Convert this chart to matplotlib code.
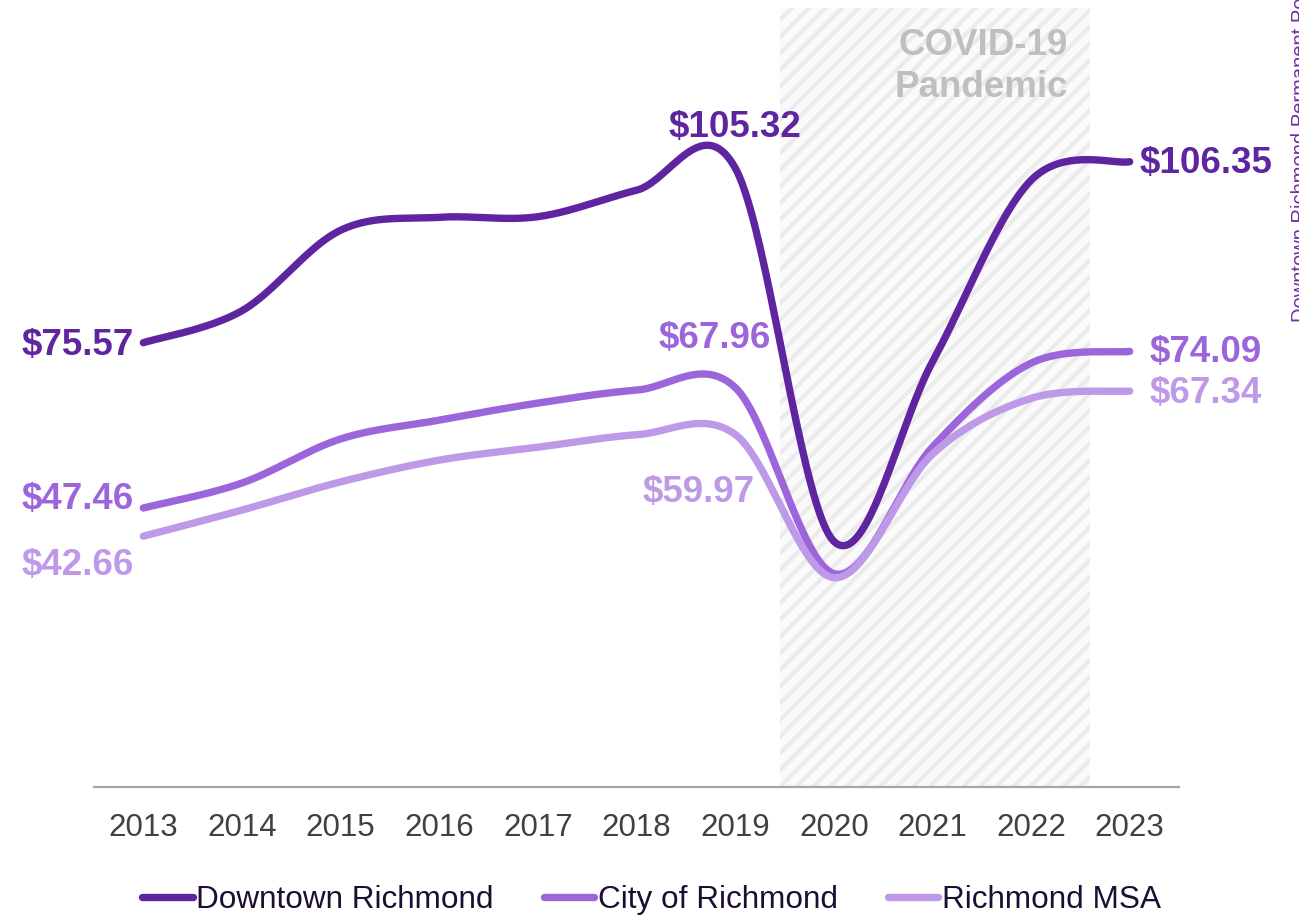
import numpy as np
import matplotlib
matplotlib.use('Agg')
import matplotlib.pyplot as plt

plt.rcParams['font.family'] = ['Liberation Sans', 'DejaVu Sans']
plt.rcParams['hatch.color'] = '#ebebeb'
plt.rcParams['hatch.linewidth'] = 3

# Dados (valor médio diário, US$)
anos = ['2013', '2014', '2015', '2016', '2017', '2018', '2019', '2020', '2021', '2022', '2023']
downtown = [75.57, 81.0, 94.7, 96.9, 97.0, 101.5, 105.32, 41.8, 72.3, 103.2, 106.35]
cidade = [47.46, 51.7, 59.2, 62.4, 65.3, 67.5, 67.96, 36.3, 57.8, 72.1, 74.09]
msa = [42.66, 47.1, 51.9, 55.6, 57.8, 59.9, 59.97, 35.6, 56.6, 66.1, 67.34]

series = [('Downtown Richmond', downtown, '#5f249f'),
          ('City of Richmond', cidade, '#9d65db'),
          ('Richmond MSA', msa, '#bd99e8')]

# rótulos: (série, índice, texto, ha, deslocamento em pontos)
rotulos = [
    (0, 0, '$75.57', 'right', (-7, -2)),
    (0, 6, '$105.32', 'center', (0, 29)),
    (0, 10, '$106.35', 'left', (7, -1)),
    (1, 0, '$47.46', 'right', (-7, 6)),
    (1, 6, '$67.96', 'center', (-15, 35)),
    (1, 10, '$74.09', 'left', (14, -1)),
    (2, 0, '$42.66', 'right', (-7, -21)),
    (2, 6, '$59.97', 'right', (14, -42)),
    (2, 10, '$67.34', 'left', (14, -1.5)),
]


def suavizar(x, y, n=40):
    # curva suave tipo Excel (Catmull-Rom em Bezier)
    pts = np.column_stack([x, y]).astype(float)
    ext = np.vstack([pts[0], pts, pts[-1]])
    t = np.linspace(0, 1, n)[:, None]
    partes = []
    for i in range(len(pts) - 1):
        p0, p1, p2, p3 = ext[i], ext[i + 1], ext[i + 2], ext[i + 3]
        c1 = p1 + (p2 - p0) / 6
        c2 = p2 - (p3 - p1) / 6
        seg = (1 - t) ** 3 * p1 + 3 * (1 - t) ** 2 * t * c1 + 3 * (1 - t) * t ** 2 * c2 + t ** 3 * p2
        partes.append(seg)
    return np.vstack(partes)


fig = plt.figure(figsize=(12.99, 9.16), dpi=100)
ax = fig.add_axes([94 / 1299, 1 - 787 / 916, (1179 - 94) / 1299, (787 - 8) / 916])

x = np.arange(len(anos))

# faixa da pandemia
ax.axvspan(6.45, 9.6, facecolor='#fafafa', edgecolor='#ebebeb', hatch='//', linewidth=0, zorder=0)
ax.text(9.37, 122.6, 'COVID-19\nPandemic', ha='right', va='center', multialignment='right',
        fontsize=26.5, fontweight='bold', color='#bfbfbf', linespacing=1.25, zorder=1)

for nome, valores, cor in series:
    curva = suavizar(x, valores)
    ax.plot(curva[:, 0], curva[:, 1], color=cor, linewidth=5.3, solid_capstyle='round',
            label=nome, zorder=3)

for s, i, texto, ha, desloc in rotulos:
    valores, cor = series[s][1], series[s][2]
    ax.annotate(texto, (x[i], valores[i]), xytext=desloc, textcoords='offset points',
                ha=ha, va='center', fontsize=26.5, fontweight='bold', color=cor, zorder=4)

ax.set_xlim(-0.5, 10.5)
ax.set_ylim(0, 132.5)
ax.set_xticks(x)
ax.set_xticklabels(anos)
ax.tick_params(axis='x', length=0, pad=19, labelsize=22.5, labelcolor='#404040')
ax.set_yticks([])
for lado in ['top', 'left', 'right']:
    ax.spines[lado].set_visible(False)
ax.spines['bottom'].set_color('#a6a6a6')
ax.spines['bottom'].set_linewidth(1.6)
ax.patch.set_alpha(0)

# título do eixo secundário (cortado na borda, como no original)
fig.text(1291 / 1299, 1 - 322 / 916, 'Downtown Richmond Permanent Population', rotation=90,
         ha='left', va='bottom', fontsize=14.5, color='#7030a0')

fig.legend(loc='center', bbox_to_anchor=(651.5 / 1299, 1 - 900 / 916), ncol=3, frameon=False,
           fontsize=22.7, handlelength=1.6, handletextpad=0.1, columnspacing=1.6,
           labelcolor='#1c0d33')

fig.savefig('out.png', dpi=100)
